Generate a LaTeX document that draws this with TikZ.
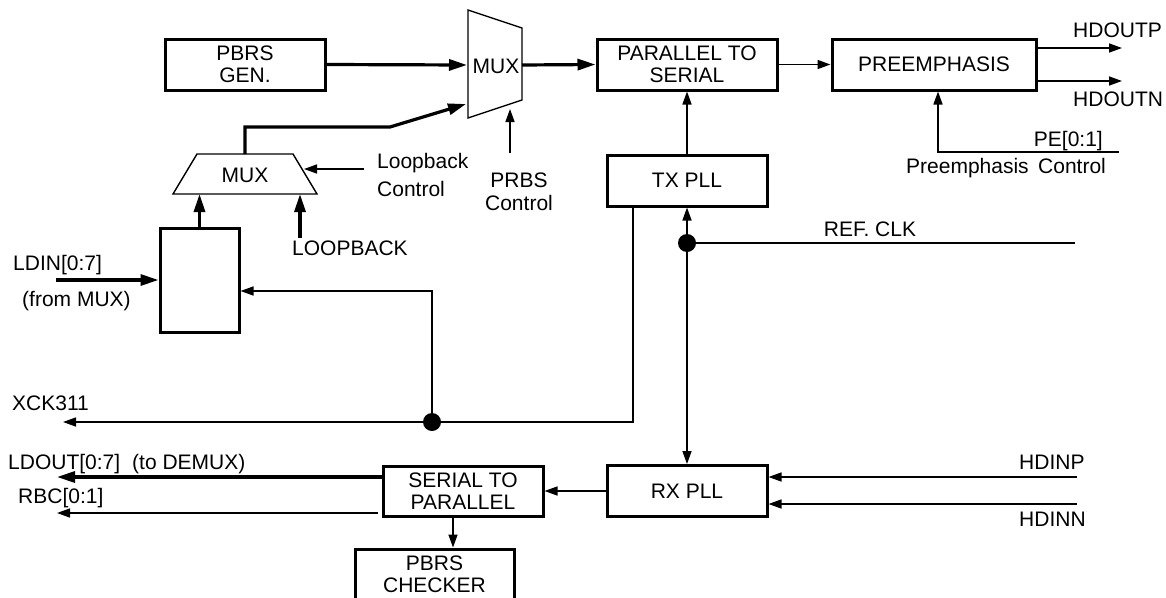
\documentclass[tikz,border=0pt]{standalone}
\usepackage{fontspec}
\setmainfont{Liberation Sans}
\usepackage{tikz}
\usetikzlibrary{arrows.meta,positioning}

\begin{document}
\begin{tikzpicture}[
  x=1pt, y=-1pt,
  font=\fontsize{21}{21.5}\selectfont,
  block/.style={draw, line width=3pt, align=center, inner sep=0pt,
                minimum height=51pt},
  sig/.style={line width=1.5pt, -{Triangle[length=13pt,width=9pt]}},
  sigboth/.style={line width=1.5pt,
                  {Triangle[length=13pt,width=9pt]}-{Triangle[length=13pt,width=9pt]}},
  bus/.style={line width=3.2pt, -{Triangle[length=18pt,width=11pt]}},
  muxline/.style={line width=1.4pt, line join=miter},
  lbl/.style={anchor=base west, inner sep=0pt},
  joint/.style={circle, fill, inner sep=0pt, minimum size=18pt}
]
  \useasboundingbox (0,0) rectangle (1166,597);

  \node[block, minimum width=160pt] (pbrsgen) at (245,64.5) {PBRS\\GEN.};
  \node[block, minimum width=180pt] (p2s) at (687,64.5) {PARALLEL TO\\SERIAL};
  \node[block, minimum width=204pt] (preemph) at (934,64.5) {PREEMPHASIS};
  \node[block, minimum width=160pt] (txpll) at (687,180.5) {TX PLL};
  \node[block, minimum width=79pt, minimum height=104pt] (reg) at (199.5,280) {};
  \node[block, minimum width=160pt] (rxpll) at (687,491) {RX PLL};
  \node[block, minimum width=160pt, minimum height=50pt] (s2p) at (463,491) {SERIAL TO\\PARALLEL};
  \node[block, minimum width=159pt] (checker) at (434.5,574.5) {PBRS\\CHECKER};

  \draw[muxline] (468,10) -- (522,28) -- (522,100) -- (468,118) -- cycle;
  \node (mux1) at (496,66) {MUX};
  \draw[muxline] (197,154) -- (293,154) -- (317,194) -- (173,194) -- cycle;
  \node (mux2) at (245,175) {MUX};

  \coordinate (mux1a) at (467,65);
  \coordinate (mux1b) at (466,104);
  \coordinate (mux1o) at (522,65);
  \coordinate (mux1s) at (510,109);
  \coordinate (mux2t) at (245,154);
  \coordinate (mux2b) at (245,194);
  \coordinate (mux2r) at (304,169);
  \coordinate (bend) at (390,127);
  \coordinate (prbsin) at (510,153);
  \coordinate (lbcin) at (364,169);
  \coordinate (lbin) at (300,238);
  \coordinate (ldin) at (56,280);
  \coordinate (xck) at (63,422);
  \coordinate (refclk) at (1075,243);
  \coordinate (hdp) at (1122,48);
  \coordinate (hdn) at (1122,81);
  \coordinate (pe) at (1119,152);
  \coordinate (hdinp) at (1077,477);
  \coordinate (hdinn) at (1077,504);
  \coordinate (ldout) at (57,477);
  \coordinate (rbc) at (57,513);

  \node[joint] (j1) at (432,422) {};
  \node[joint] (j2) at (687,243) {};

  \draw[bus] (pbrsgen.east) -- (mux1a);
  \draw[bus] (mux2t) -- (mux2t |- bend) -- (bend) -- (mux1b);
  \draw[bus] (mux1o) -- (p2s.west);
  \draw[sig] (p2s) -- (preemph);
  \draw[sig] (preemph.east |- hdp) -- (hdp);
  \draw[sig] (preemph.east |- hdn) -- (hdn);
  \draw[sig] (pe) -| ([xshift=4pt]preemph.south);
  \draw[sig] (txpll) -- (p2s);
  \draw[sig] (prbsin) -- (mux1s);
  \draw[sig] (lbcin) -- (mux2r);
  \draw[bus] (reg.north) -- (reg.north |- mux2b);
  \draw[bus] (lbin) -- (lbin |- mux2b);
  \draw[bus] (ldin) -- (reg.west);
  \draw[sig] ([xshift=-54pt]txpll.south) |- (xck);
  \draw[sig] (j1) |- ([yshift=-11pt]reg.east);
  \draw[line width=1.5pt] (refclk) -- (j2);
  \draw[sigboth] (txpll) -- (rxpll);
  \draw[sig] (rxpll) -- (s2p);
  \draw[sig] (hdinp) -- (hdinp -| rxpll.east);
  \draw[sig] (hdinn) -- (hdinn -| rxpll.east);
  \draw[bus] (s2p.west |- ldout) -- (ldout);
  \draw[sig] ([xshift=-4pt]s2p.west |- rbc) -- (rbc);
  \draw[sig] ([xshift=-10pt]s2p.south) -- ([xshift=-10pt]s2p.south |- checker.north);

  \node[lbl] (ldinlbl) at (13,270) {LDIN[0:7]};
  \node[lbl] (frommux) at (22,306) {(from MUX)};
  \node[lbl] (loopback) at (292,255) {LOOPBACK};
  \node[anchor=west, align=left, inner sep=0pt] (lbctl) at (377,175) {Loopback\\[6pt]Control};
  \node[align=center, inner sep=0pt] (prbsctl) at (519,192) {PRBS\\[2pt]Control};
  \node[lbl] (xcklbl) at (12,410) {XCK311};
  \node[lbl] (ldoutlbl) at (8,469) {LDOUT[0:7]\hspace{12pt}(to DEMUX)};
  \node[lbl] (rbclbl) at (18,503) {RBC[0:1]};
  \node[anchor=base, inner sep=0pt] (refclklbl) at (870,236) {REF. CLK};
  \node[lbl] (hdoutp) at (1073,37) {HDOUTP};
  \node[lbl] (hdoutn) at (1073,106) {HDOUTN};
  \node[anchor=base east, inner sep=0pt] (pelbl) at (1103,146) {PE[0:1]};
  \node[lbl] (pectl) at (906,173) {Preemphasis\hspace{0.45em}Control};
  \node[lbl] (hdinplbl) at (1019,469) {HDINP};
  \node[lbl] (hdinnlbl) at (1019,526) {HDINN};
\end{tikzpicture}
\end{document}
